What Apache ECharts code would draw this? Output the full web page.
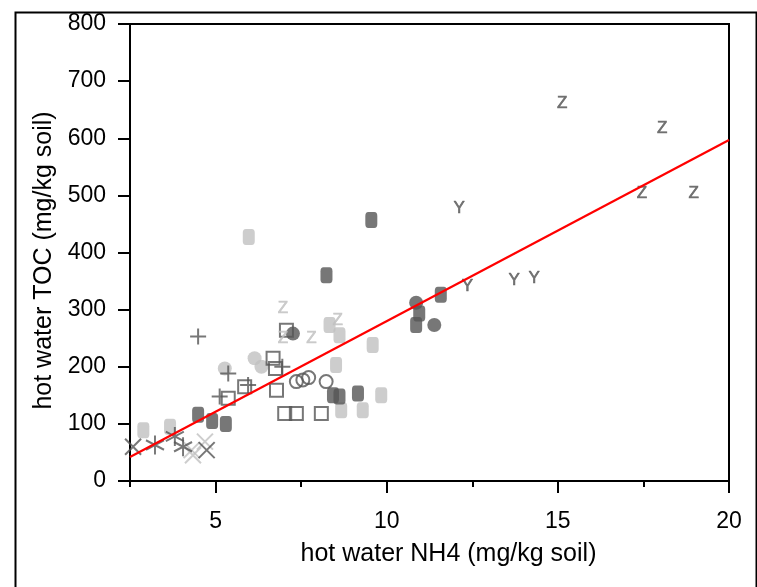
<!DOCTYPE html>
<html><head><meta charset="utf-8">
<script src="https://cdn.jsdelivr.net/npm/echarts@6/dist/echarts.min.js"></script>
<style>html,body{margin:0;padding:0;background:#fff}#c{width:757px;height:587px}</style>
</head><body><div id="c"></div>
<script>
// ---- data ----
const xTickLabels = [5, 10, 15, 20];
const xMinorTicks = [2.5, 7.5, 12.5, 17.5];
const yTickStep = 100;
const darkSquares = [[4.49,116],[4.9,105],[5.3,100],[8.24,360],[9.55,457],[8.43,150],[8.62,148],[9.16,153],[10.86,273],[10.95,293],[11.58,326]];
const lightSquares = [[2.89,89],[3.67,95],[5.97,427],[8.33,273],[8.62,255],[9.59,238],[8.52,203],[9.84,150],[8.67,124],[9.3,124]];
const darkCircles = [[7.26,258],[10.86,312],[11.39,273]];
const lightCircles = [[5.27,197],[6.14,215],[6.34,200]];
const openSquares = [[7.07,264],[6.68,215],[6.75,197],[6.78,159],[5.85,165],[5.37,145],[7.02,118],[7.36,118],[8.09,118]];
const openCircles = [[7.36,174],[7.55,177],[7.72,181],[8.23,174]];
const plusPoints = [[4.49,253],[5.37,188],[5.95,168],[5.12,148],[6.95,200]];
const asterisks = [[3.23,63],[3.81,78],[4.05,60]];
const darkCrosses = [[2.59,60],[4.74,54]];
const lightCrosses = [[4.3,54],[4.34,45],[4.69,69]];
const lightZ = [[6.97,302],[6.97,250],[7.8,250],[8.57,282]];
const darkZ = [[15.13,661],[18.05,617],[17.46,504],[18.97,504]];
const darkY = [[12.12,477],[12.36,340],[13.72,352],[14.31,355]];
const fitX = [2.5, 20];
const fitY = [42, 597];

// ---- styles ----
const DARK = '#555555', LIGHT = '#c0c0c0', FONT = 'Liberation Sans, Arial, sans-serif';
const clear = 'rgba(0,0,0,0)';
const P_PLUS = 'path://M5 0 L5 10 M0 5 L10 5';
const P_X = 'path://M0 0 L10 10 M10 0 L0 10';
const P_AST = 'path://M5 0 L5 10 M0.7 2.5 L9.3 7.5 M0.7 7.5 L9.3 2.5';

function sc(data, symbol, size, itemStyle) {
  return {type:'scatter', data, symbol, symbolSize:size, itemStyle, silent:true, emphasis:{disabled:true}};
}
function txt(data, ch, color) {
  return {type:'scatter', data, symbol:'circle', symbolSize:1, itemStyle:{color:clear}, silent:true,
    emphasis:{disabled:true},
    label:{show:true, position:'inside', formatter:ch, color, fontFamily:FONT, fontSize:17,
      textBorderColor:color, textBorderWidth:0.6}};
}

const chart = echarts.init(document.getElementById('c'), null, {renderer:'canvas'});
chart.setOption({
  animation:false,
  backgroundColor:'#fff',
  graphic:[{type:'rect', left:13, top:10, shape:{width:741, height:620}, style:{fill:'none', stroke:'#000', lineWidth:2}, silent:true}],
  grid:{left:130, right:28, top:24, bottom:106, show:true, borderColor:'#000', borderWidth:2, backgroundColor:'#fff'},
  xAxis:[{
    type:'value', min:2.5, max:20, position:'bottom',
    name:'hot water NH4 (mg/kg soil)', nameLocation:'middle', nameGap:61,
    nameTextStyle:{fontFamily:FONT, fontSize:25, color:'#000', padding:[0,0,0,38]},
    axisLine:{show:true, lineStyle:{color:'#000', width:2}},
    axisTick:{show:true, customValues:xTickLabels, length:12, lineStyle:{color:'#000', width:2}},
    axisLabel:{customValues:xTickLabels, fontFamily:FONT, fontSize:23, color:'#000', margin:29},
    splitLine:{show:false}
  },{
    type:'value', min:2.5, max:20, position:'bottom', offset:0,
    axisLine:{show:false},
    axisTick:{show:true, customValues:xMinorTicks, length:6, lineStyle:{color:'#000', width:2}},
    axisLabel:{show:false}, splitLine:{show:false}
  }],
  yAxis:{
    type:'value', min:0, max:800, interval:yTickStep,
    name:'hot water TOC (mg/kg soil)', nameLocation:'middle', nameGap:68, nameRotate:90,
    nameTextStyle:{fontFamily:FONT, fontSize:25, color:'#000', padding:[0,16,0,0]},
    axisLine:{show:true, lineStyle:{color:'#000', width:2}},
    axisTick:{show:true, length:12, lineStyle:{color:'#000', width:2}},
    axisLabel:{fontFamily:FONT, fontSize:23, color:'#000', margin:24},
    splitLine:{show:false}
  },
  series:[
    sc(lightSquares, 'roundRect', [12,16], {color:LIGHT}),
    sc(lightCircles, 'circle', 14, {color:LIGHT}),
    sc(lightCrosses, P_X, 16, {color:clear, borderColor:LIGHT, borderWidth:2}),
    txt(lightZ, 'Z', LIGHT),
    sc(openSquares, 'rect', 13, {color:clear, borderColor:DARK, borderWidth:2}),
    sc(openCircles, 'circle', 13, {color:clear, borderColor:DARK, borderWidth:2}),
    sc(darkSquares, 'roundRect', [12,16], {color:DARK}),
    sc(darkCircles, 'circle', 14, {color:DARK}),
    sc(plusPoints, P_PLUS, 16, {color:clear, borderColor:DARK, borderWidth:2}),
    sc(asterisks, P_AST, [18,19], {color:clear, borderColor:DARK, borderWidth:2}),
    sc(darkCrosses, P_X, 16, {color:clear, borderColor:DARK, borderWidth:2}),
    txt(darkZ, 'Z', DARK),
    txt(darkY, 'Y', DARK),
    {type:'line', data:fitX.map((x,i)=>[x, fitY[i]]), showSymbol:false, symbol:'none', silent:true,
     lineStyle:{color:'#ff0000', width:2.2}, z:10, emphasis:{disabled:true}}
  ]
});
</script></body></html>
